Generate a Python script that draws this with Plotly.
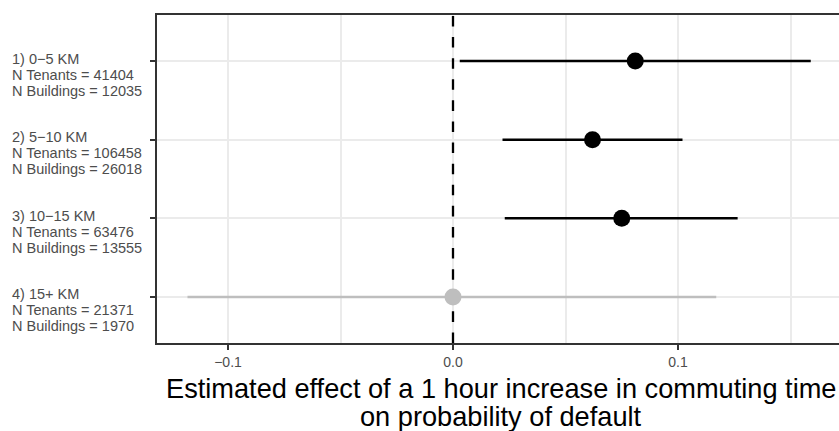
import plotly.graph_objects as go

# ---- data ----
band_labels = ["1) 0\u22125 KM", "2) 5\u221210 KM", "3) 10\u221215 KM", "4) 15+ KM"]
n_tenants = [41404, 106458, 63476, 21371]
n_buildings = [12035, 26018, 13555, 1970]
estimates = [0.081, 0.062, 0.075, 0.000]
ci_lower = [0.003, 0.022, 0.023, -0.118]
ci_upper = [0.159, 0.102, 0.1265, 0.117]
significant = [True, True, True, False]

x_tickvals = [-0.1, 0.0, 0.1]
x_ticktext = ["\u22120.1", "0.0", "0.1"]
x_minorvals = [-0.05, 0.05, 0.15]
ref_x = 0.0

title_lines = ["Estimated effect of a 1 hour increase in commuting time",
               "on probability of default"]

FONT = "Liberation Sans, Arial, Helvetica, sans-serif"
n = len(band_labels)
ypos = [n - i for i in range(n)]
y_range = [0.415, 4.585]

fig = go.Figure()

# reference line at zero (drawn first so points sit on top)
fig.add_trace(go.Scatter(
    x=[ref_x, ref_x], y=y_range, mode="lines",
    line=dict(color="black", width=2.3, dash="10.55px,10.55px"),
    showlegend=False, hoverinfo="skip", cliponaxis=True))

for i in range(n):
    col = "black" if significant[i] else "#bebebe"
    fig.add_trace(go.Scatter(
        x=[estimates[i]], y=[ypos[i]], mode="markers",
        marker=dict(size=17, color=col, line=dict(width=0)),
        error_x=dict(type="data", symmetric=False,
                     array=[ci_upper[i] - estimates[i]],
                     arrayminus=[estimates[i] - ci_lower[i]],
                     color=col, thickness=2.5, width=0),
        showlegend=False, hoverinfo="skip"))

# y labels (three lines each)
for i in range(n):
    lines = [band_labels[i], f"N Tenants = {n_tenants[i]}", f"N Buildings = {n_buildings[i]}"]
    shifts = [2.5, -13.5, -29.5]
    for txt, sh in zip(lines, shifts):
        fig.add_annotation(text=txt, xref="paper", yref="y", x=-0.2155, y=ypos[i],
                           xanchor="left", yanchor="middle", yshift=sh, showarrow=False,
                           font=dict(family=FONT, size=14.5, color="#4d4d4d"), align="left")

# x title (two lines)
for txt, sh in zip(title_lines, [-45, -73]):
    fig.add_annotation(text=txt, xref="paper", yref="paper", x=(501 - 157) / 682, y=0,
                       xanchor="center", yanchor="middle", yshift=sh, showarrow=False,
                       font=dict(family=FONT, size=27.2, color="black"))

fig.update_layout(
    width=839, height=431,
    margin=dict(l=157, r=0, t=15, b=88, autoexpand=False),
    paper_bgcolor="white", plot_bgcolor="white",
    font=dict(family=FONT),
    xaxis=dict(range=[(157 - 453) / 2250, (839 - 453) / 2250],
               tickvals=x_tickvals, ticktext=x_ticktext,
               tickfont=dict(size=14, color="#4d4d4d", family=FONT),
               ticks="outside", ticklen=5, tickwidth=2, tickcolor="#333333",
               showgrid=True, gridcolor="#ebebeb", gridwidth=2.2,
               minor=dict(tickvals=x_minorvals, showgrid=True, gridcolor="#ebebeb",
                          gridwidth=1.5, ticks=""),
               showline=True, linecolor="#333333", linewidth=2, mirror=True,
               zeroline=False),
    yaxis=dict(range=y_range, tickvals=ypos, showticklabels=False,
               ticks="outside", ticklen=5, tickwidth=2, tickcolor="#333333",
               showgrid=True, gridcolor="#ebebeb", gridwidth=2,
               showline=True, linecolor="#333333", linewidth=2, mirror=False,
               zeroline=False),
)

fig.write_html("out.html", config={"displayModeBar": False},
               post_script="document.body.style.margin='0';document.body.style.padding='0';")
